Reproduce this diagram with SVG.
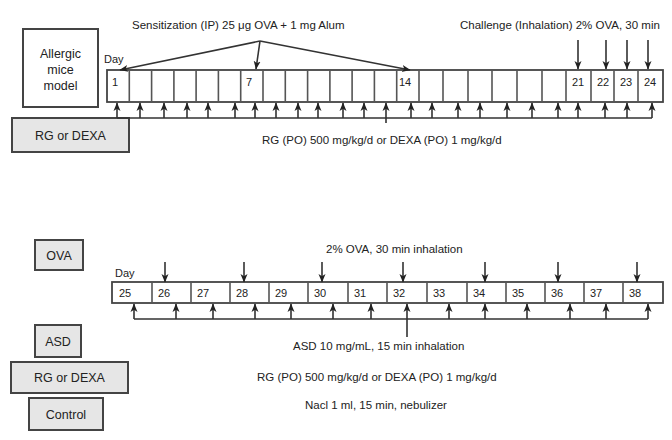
<svg xmlns="http://www.w3.org/2000/svg" width="672" height="440" viewBox="0 0 672 440">
<defs>
<style>
text{font-family:"Liberation Sans",Arial,sans-serif;fill:#222}
.lbl{font-size:11.5px}
.box{font-size:12.5px;text-anchor:middle}
.num{font-size:11px}
.gbox{fill:#e6e6e6;stroke:#444;stroke-width:2}
.wbox{fill:#fff;stroke:#444;stroke-width:2}
.strip{fill:#fff;stroke:#444;stroke-width:1.8}
.div{stroke:#555;stroke-width:1.6}
.ln{stroke:#333;stroke-width:1.6;fill:none}
.ar{stroke:#333;stroke-width:1.6;fill:none;marker-end:url(#ah)}
</style>
<marker id="ah" markerUnits="userSpaceOnUse" markerWidth="9" markerHeight="9" viewBox="0 0 9 9" refX="8" refY="4.5" orient="auto">
<path d="M0,1 L8.5,4.5 L0,8 L2.2,4.5 Z" fill="#222"/>
</marker>
</defs>

<g id="allergic-model">
<rect class="wbox" x="23" y="29" width="75" height="78"/>
<text class="box" x="60.5" y="58">Allergic</text>
<text class="box" x="60.5" y="74">mice</text>
<text class="box" x="60.5" y="90">model</text>
</g>

<g id="rg-dexa-top">
<rect class="gbox" x="12" y="118" width="117" height="34"/>
<text class="box" x="70.5" y="140">RG or DEXA</text>
</g>

<g id="timeline-top">
<text class="num" x="104" y="63">Day</text>
<rect class="strip" x="107" y="70" width="556" height="32"/>
<path class="div" d="M129.3,70V102M151.6,70V102M173.9,70V102M196.1,70V102M218.4,70V102M240.7,70V102M263,70V102M285.3,70V102M307.6,70V102M329.9,70V102M352.1,70V102M374.4,70V102M396.7,70V102M419,70V102M443,70V102M468,70V102M492,70V102M517,70V102M542,70V102M566,70V102M591,70V102M614,70V102M638,70V102"/>
<text class="num" x="112" y="86">1</text>
<text class="num" x="246" y="86">7</text>
<text class="num" x="399" y="86">14</text>
<text class="num" x="572" y="86">21</text>
<text class="num" x="597" y="86">22</text>
<text class="num" x="620" y="86">23</text>
<text class="num" x="644" y="86">24</text>
</g>

<g id="sensitization">
<text class="lbl" x="132" y="29">Sensitization (IP) 25 μg OVA + 1 mg Alum</text>
</g>
<g id="challenge">
<text class="lbl" x="460" y="29">Challenge (Inhalation) 2% OVA, 30 min</text>
</g>
<g id="rg-label-top">
<text class="lbl" x="262" y="144">RG (PO) 500 mg/kg/d or DEXA (PO) 1 mg/kg/d</text>
</g>

<g id="ova">
<rect class="gbox" x="35" y="240" width="48" height="30"/>
<text class="box" x="59" y="259.5">OVA</text>
</g>
<g id="asd">
<rect class="gbox" x="35" y="325" width="46" height="32"/>
<text class="box" x="58" y="345.5">ASD</text>
</g>
<g id="rg-dexa-bottom">
<rect class="gbox" x="11" y="362" width="117" height="31"/>
<text class="box" x="69.5" y="382">RG or DEXA</text>
</g>
<g id="control">
<rect class="gbox" x="29" y="398" width="74" height="32"/>
<text class="box" x="66" y="418.5">Control</text>
</g>

<g id="timeline-bottom">
<text class="num" x="115" y="277">Day</text>
<rect class="strip" x="112" y="282" width="551" height="21"/>
<path class="div" d="M152,282V303M191,282V303M230,282V303M269,282V303M308,282V303M348,282V303M387,282V303M427,282V303M467,282V303M506,282V303M545,282V303M584,282V303M623,282V303"/>
<text class="num" x="119" y="297">25</text>
<text class="num" x="158" y="297">26</text>
<text class="num" x="197" y="297">27</text>
<text class="num" x="236" y="297">28</text>
<text class="num" x="275" y="297">29</text>
<text class="num" x="314" y="297">30</text>
<text class="num" x="354" y="297">31</text>
<text class="num" x="393" y="297">32</text>
<text class="num" x="433" y="297">33</text>
<text class="num" x="473" y="297">34</text>
<text class="num" x="512" y="297">35</text>
<text class="num" x="551" y="297">36</text>
<text class="num" x="590" y="297">37</text>
<text class="num" x="629" y="297">38</text>
</g>

<g id="labels-bottom">
<text class="lbl" x="326" y="253">2% OVA, 30 min inhalation</text>
<text class="lbl" x="293" y="350">ASD 10 mg/mL, 15 min inhalation</text>
<text class="lbl" x="257" y="381">RG (PO) 500 mg/kg/d or DEXA (PO) 1 mg/kg/d</text>
<text class="lbl" x="305" y="409">Nacl 1 ml, 15 min, nebulizer</text>
</g>

<g id="connectors">
<path class="ar" d="M260,41 L120,70"/>
<path class="ar" d="M260,41 L256,69"/>
<path class="ar" d="M260,41 L410,70"/>
<path class="ar" d="M578,40V69"/>
<path class="ar" d="M606,40V69"/>
<path class="ar" d="M627,40V69"/>
<path class="ar" d="M648,40V69"/>
<path class="ln" d="M117,118H652M386,118V123"/>
<path class="ar" d="M117,118V103"/><path class="ar" d="M140,118V103"/><path class="ar" d="M164,118V103"/><path class="ar" d="M187,118V103"/>
<path class="ar" d="M208,118V103"/><path class="ar" d="M235,118V103"/><path class="ar" d="M255,118V103"/><path class="ar" d="M276,118V103"/>
<path class="ar" d="M298,118V103"/><path class="ar" d="M318,118V103"/><path class="ar" d="M343,118V103"/><path class="ar" d="M364,118V103"/>
<path class="ar" d="M386,118V103"/><path class="ar" d="M411,118V103"/><path class="ar" d="M432,118V103"/><path class="ar" d="M458,118V103"/>
<path class="ar" d="M480,118V103"/><path class="ar" d="M507,118V103"/><path class="ar" d="M532,118V103"/><path class="ar" d="M558,118V103"/>
<path class="ar" d="M578,118V103"/><path class="ar" d="M605,118V103"/><path class="ar" d="M627,118V103"/><path class="ar" d="M652,118V103"/>
<path class="ar" d="M165,262V282"/><path class="ar" d="M244,262V282"/><path class="ar" d="M322,262V282"/><path class="ar" d="M403,262V282"/>
<path class="ar" d="M485,262V282"/><path class="ar" d="M558,262V282"/><path class="ar" d="M637,262V282"/>
<path class="ln" d="M134,319H648M407,319V337"/>
<path class="ar" d="M134,319V304"/><path class="ar" d="M176,319V304"/><path class="ar" d="M213,319V304"/><path class="ar" d="M255,319V304"/>
<path class="ar" d="M291,319V304"/><path class="ar" d="M333,319V304"/><path class="ar" d="M371,319V304"/><path class="ar" d="M407,319V304"/>
<path class="ar" d="M449,319V304"/><path class="ar" d="M485,319V304"/><path class="ar" d="M527,319V304"/><path class="ar" d="M570,319V304"/>
<path class="ar" d="M606,319V304"/><path class="ar" d="M648,319V304"/>
</g>
</svg>
